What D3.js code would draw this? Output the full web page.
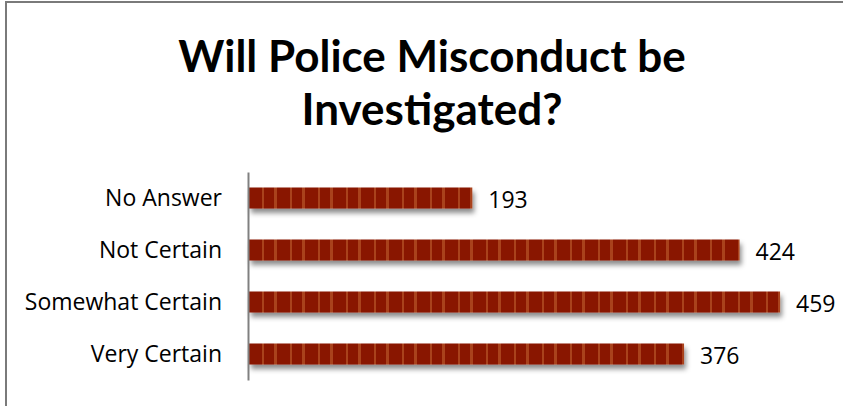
<!DOCTYPE html>
<html>
<head>
<meta charset="utf-8">
<script src="https://cdn.jsdelivr.net/npm/d3@7"></script>
<style>
  html, body { margin: 0; padding: 0; background: #fff; }
  svg { display: block; }
</style>
</head>
<body>
<svg id="chart" width="843" height="406"></svg>
<script>
// Survey responses
const categories = ["No Answer", "Not Certain", "Somewhat Certain", "Very Certain"];
const counts = [193, 424, 459, 376];
const titleLines = ["Will Police Misconduct be", "Investigated?"];

const W = 843, H = 406;
const svg = d3.select("#chart");
const defs = svg.append("defs");

// striped dark-red fill for the bars
const pat = defs.append("pattern")
  .attr("id", "stripes")
  .attr("patternUnits", "userSpaceOnUse")
  .attr("x", 249).attr("y", 0)
  .attr("width", 28).attr("height", 10);
pat.append("rect").attr("width", 28).attr("height", 10).attr("fill", "#891300");
pat.append("rect").attr("x", 13).attr("width", 2).attr("height", 10).attr("fill", "#a9431d");
pat.append("rect").attr("x", 25).attr("width", 4).attr("height", 10).attr("fill", "#a9431d");

// soft shadow under each bar
const f = defs.append("filter").attr("id", "shadow")
  .attr("x", "-5%").attr("y", "-30%").attr("width", "115%").attr("height", "200%");
f.append("feDropShadow")
  .attr("dx", 2).attr("dy", 4.5).attr("stdDeviation", 2.8)
  .attr("flood-color", "#000").attr("flood-opacity", 0.45);

// frame
svg.append("path")
  .attr("d", `M6,${H} V2 H${W}`)
  .attr("fill", "none").attr("stroke", "#7a7a7a").attr("stroke-width", 2);

// title
svg.append("g").selectAll("text").data(titleLines).join("text")
  .attr("x", 432)
  .attr("y", (d, i) => 72 + i * 53)
  .attr("text-anchor", "middle")
  .attr("font-family", "Lato, sans-serif")
  .attr("font-weight", "bold")
  .attr("font-size", 44)
  .attr("fill", "#000")
  .text(d => d);

const x = d3.scaleLinear().domain([0, 500]).range([249, 249 + 500 * 1.157]);
const y = d3.scaleBand().domain(categories).range([172, 380])
  .paddingInner(0.596).paddingOuter(0.298);

// bars
svg.append("g").selectAll("rect").data(categories).join("rect")
  .attr("x", x(0))
  .attr("y", d => y(d))
  .attr("width", (d, i) => x(counts[i]) - x(0))
  .attr("height", y.bandwidth())
  .attr("fill", "url(#stripes)")
  .attr("filter", "url(#shadow)");

// category axis
const yAxis = d3.axisLeft(y).tickSize(0).tickPadding(26);
const ga = svg.append("g").attr("transform", `translate(${x(0) - 1},0)`).call(yAxis);
ga.select(".domain").attr("stroke", "#808080").attr("stroke-width", 2);
ga.selectAll("text")
  .attr("dy", 7.5)
  .attr("font-family", "'Open Sans', sans-serif")
  .attr("font-size", 23)
  .attr("fill", "#000");

// value labels
svg.append("g").selectAll("text").data(categories).join("text")
  .attr("x", (d, i) => x(counts[i]) + 16)
  .attr("y", d => y(d) + y.bandwidth() / 2)
  .attr("dy", 10)
  .attr("font-family", "'Open Sans', sans-serif")
  .attr("font-size", 23)
  .attr("fill", "#000")
  .text((d, i) => counts[i]);
</script>
</body>
</html>
